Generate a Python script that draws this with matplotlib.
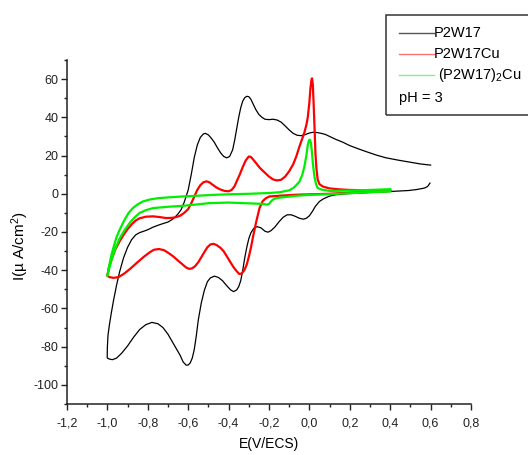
import matplotlib
matplotlib.use("Agg")
import matplotlib.pyplot as plt
from matplotlib.lines import Line2D
from matplotlib.patches import Rectangle

plt.rcParams["font.family"] = ["Liberation Sans", "DejaVu Sans"]
plt.rcParams["mathtext.default"] = "regular"
plt.rcParams["axes.unicode_minus"] = False

# ── Data (E in V/ECS, I in µA/cm²) ─────────────────────────────────────
# P2W17 : cathodic sweep 0.6 -> -1.0, then anodic sweep back to 0.6
p2w17_E = [0.597, 0.585, 0.57, 0.53, 0.49, 0.40, 0.30, 0.18, 0.13, 0.10, 0.07, 0.05,
           0.03, 0.015, 0.0, -0.015, -0.03, -0.05, -0.07, -0.09, -0.11, -0.13, -0.15,
           -0.17, -0.19, -0.205, -0.22, -0.24, -0.26, -0.275, -0.29, -0.30, -0.31,
           -0.32, -0.33, -0.34, -0.35, -0.36, -0.375, -0.39, -0.41, -0.43, -0.45,
           -0.47, -0.49, -0.505, -0.52, -0.535, -0.55, -0.56, -0.57, -0.58, -0.59,
           -0.60, -0.61, -0.625, -0.64, -0.66, -0.68, -0.70, -0.725, -0.75, -0.78,
           -0.81, -0.84, -0.87, -0.90, -0.93, -0.955, -0.975, -0.99, -1.0,
           -1.001, -1.0, -0.997, -0.99, -0.98, -0.97, -0.955, -0.94, -0.92, -0.90,
           -0.88, -0.86, -0.84, -0.82, -0.80, -0.775, -0.75, -0.725, -0.70, -0.68,
           -0.665, -0.65, -0.635, -0.62, -0.60, -0.585, -0.57, -0.555, -0.54,
           -0.525, -0.515, -0.50, -0.485, -0.47, -0.455, -0.44, -0.425, -0.41,
           -0.395, -0.38, -0.37, -0.36, -0.35, -0.34, -0.33, -0.32, -0.31, -0.30,
           -0.29, -0.28, -0.265, -0.25, -0.235, -0.22, -0.20, -0.18, -0.16, -0.14,
           -0.12, -0.10, -0.08, -0.06, -0.04, -0.02, 0.0, 0.02, 0.04, 0.06, 0.08,
           0.10, 0.13, 0.165, 0.20, 0.24, 0.28, 0.33, 0.38, 0.445, 0.50, 0.55, 0.60]
p2w17_I = [5.6, 3.8, 3.0, 2.2, 1.7, 1.2, 0.7, 0.0, -0.5, -1.2, -2.6, -4.0,
           -6.5, -9.2, -11.5, -12.8, -13.3, -12.8, -11.8, -11.0, -11.0, -12.3, -14.6,
           -17.3, -19.3, -20.1, -19.6, -17.8, -17.2, -18.0, -20.5, -23.5, -28.0,
           -33.5, -40.0, -45.5, -48.6, -50.3, -51.2, -50.3, -48.0, -45.5, -43.8,
           -43.1, -44.0, -46.0, -50.5, -57.0, -66.0, -74.4, -81.5, -86.0, -88.5,
           -89.6, -89.7, -88.0, -84.5, -80.8, -77.0, -73.5, -70.0, -68.0, -67.3,
           -68.5, -71.0, -75.0, -79.6, -83.5, -86.0, -86.8, -86.5, -86.0,
           -85.5, -80.0, -74.0, -68.5, -62.0, -56.0, -48.0, -41.0, -33.5, -28.0,
           -24.0, -21.5, -20.3, -19.6, -18.8, -17.5, -16.5, -15.6, -14.8, -13.5,
           -12.2, -10.5, -8.3, -4.5, 2.0, 10.0, 19.0, 25.5, 29.5,
           31.3, 31.6, 30.8, 29.0, 26.8, 24.0, 21.5, 19.6, 18.8,
           19.5, 23.0, 28.0, 34.0, 40.0, 45.0, 48.5, 50.3, 51.0, 50.8,
           49.5, 47.3, 44.0, 41.5, 40.0, 39.0, 38.8, 39.0, 38.6, 37.5,
           35.5, 33.4, 31.6, 30.6, 30.4, 31.0, 31.8, 32.2, 32.0, 31.6, 31.0,
           30.0, 28.5, 27.0, 25.2, 23.6, 22.1, 20.3, 18.8, 17.5, 16.5, 15.6, 15.0]

# P2W17Cu : 0.4 -> -1.0 -> 0.4
p2w17cu_E = [0.40, 0.30, 0.20, 0.10, 0.0, -0.066, -0.13, -0.17, -0.198, -0.215, -0.231,
             -0.247, -0.264, -0.28, -0.29, -0.30, -0.31, -0.322, -0.335, -0.347, -0.36,
             -0.375, -0.39, -0.41, -0.425, -0.44, -0.46, -0.475, -0.49, -0.505, -0.52,
             -0.535, -0.55, -0.565, -0.58, -0.595, -0.61, -0.63, -0.65, -0.675, -0.70,
             -0.72, -0.745, -0.77, -0.79, -0.82, -0.855, -0.89, -0.92, -0.945, -0.97,
             -0.99, -1.0,
             -0.995, -0.985, -0.973, -0.96, -0.94, -0.92, -0.90, -0.88, -0.86, -0.84,
             -0.81, -0.775, -0.74, -0.71, -0.68, -0.66, -0.64, -0.62, -0.60, -0.585,
             -0.57, -0.555, -0.54, -0.525, -0.51, -0.495, -0.48, -0.46, -0.44, -0.42,
             -0.40, -0.385, -0.37, -0.36, -0.345, -0.33, -0.315, -0.30, -0.29, -0.275,
             -0.26, -0.245, -0.225, -0.20, -0.18, -0.16, -0.14, -0.12, -0.10, -0.08,
             -0.065, -0.05, -0.035, -0.025, -0.015, -0.008, 0.0, 0.005, 0.01, 0.013,
             0.017, 0.021, 0.026, 0.03, 0.035, 0.041, 0.05, 0.066, 0.10, 0.15, 0.20,
             0.30, 0.40]
p2w17cu_I = [1.5, 1.0, 0.6, 0.0, -0.3, -0.5, -0.9, -1.2, -1.4, -2.3, -3.8,
             -7.5, -15.0, -23.0, -28.5, -33.0, -37.0, -40.0, -41.7, -42.0, -40.5,
             -38.5, -36.0, -32.5, -30.0, -28.3, -26.8, -26.2, -26.5, -28.0, -30.5,
             -33.2, -35.8, -37.8, -39.0, -39.3, -38.6, -36.8, -35.0, -32.7, -30.8,
             -29.5, -28.9, -29.3, -30.6, -33.0, -36.2, -39.5, -42.0, -43.6, -44.0,
             -43.6, -43.0,
             -39.5, -36.0, -32.5, -29.0, -25.0, -21.5, -18.5, -16.0, -14.0, -12.8,
             -12.0, -11.8, -12.2, -12.7, -12.6, -12.2, -11.5, -10.0, -8.0, -5.0,
             -1.5, 2.0, 4.5, 6.0, 6.5, 6.0, 4.8, 3.3, 2.2, 1.5,
             1.3, 2.0, 4.0, 6.5, 10.0, 14.0, 17.5, 19.5, 19.3, 17.5,
             15.5, 13.5, 11.5, 9.0, 7.5, 7.0, 7.3, 9.0, 11.8, 15.5,
             19.5, 24.5, 29.0, 32.0, 36.0, 40.0, 48.0, 55.0, 59.5, 60.4,
             57.0, 47.0, 33.0, 21.0, 13.0, 7.5, 5.0, 3.8, 2.8, 2.3, 2.0,
             1.8, 1.8]

# (P2W17)2Cu : 0.4 -> -1.0 -> 0.4
p2w17_2cu_E = [0.40, 0.30, 0.20, 0.10, 0.016, -0.06, -0.12, -0.165, -0.18, -0.19, -0.20,
               -0.21, -0.23, -0.30, -0.40, -0.495, -0.56, -0.627, -0.70, -0.775, -0.81,
               -0.84, -0.865, -0.89, -0.915, -0.94, -0.96, -0.975, -0.99, -1.0,
               -0.99, -0.98, -0.967, -0.956, -0.94, -0.915, -0.895, -0.874, -0.85,
               -0.824, -0.79, -0.75, -0.70, -0.627, -0.55, -0.462, -0.38, -0.297,
               -0.20, -0.148, -0.10, -0.08, -0.065, -0.049, -0.035, -0.025, -0.015,
               -0.008, -0.002, 0.003, 0.008, 0.013, 0.018, 0.025, 0.033, 0.041, 0.06,
               0.10, 0.20, 0.30, 0.40]
p2w17_2cu_I = [1.2, 0.8, 0.3, -0.2, -0.5, -1.0, -1.7, -2.3, -3.0, -4.0, -5.3,
               -5.7, -5.3, -5.0, -4.6, -4.9, -5.6, -6.3, -6.8, -7.5, -8.6,
               -10.0, -12.3, -15.3, -19.0, -23.5, -28.5, -33.0, -38.5, -43.0,
               -37.0, -32.0, -27.0, -23.1, -19.0, -13.6, -10.0, -7.5, -5.5,
               -4.0, -3.0, -2.3, -1.9, -1.4, -1.0, -0.5, -0.2, 0.0,
               0.4, 0.8, 1.8, 3.0, 4.5, 6.4, 10.0, 14.2, 20.0,
               25.6, 28.0, 28.3, 26.5, 21.2, 15.0, 9.0, 5.0, 3.0, 2.2,
               1.5, 1.7, 2.0, 2.4]

xticks = [-1.2, -1.0, -0.8, -0.6, -0.4, -0.2, 0.0, 0.2, 0.4, 0.6, 0.8]
xtick_labels = ["-1,2", "-1,0", "-0,8", "-0,6", "-0,4", "-0,2", "0,0", "0,2", "0,4", "0,6", "0,8"]
yticks = [-100, -80, -60, -40, -20, 0, 20, 40, 60]
ytick_labels = ["-100", "-80", "-60", "-40", "-20", "0", "20", "40", "60"]

series_names = ["P2W17", "P2W17Cu", " (P2W17)$_2$Cu"]
series_colors = ["black", "#ff0000", "#00ee00"]
legend_line_colors = ["#555555", "#ff7070", "#80f080"]

# ── Figure ─────────────────────────────────────────────────
fig = plt.figure(figsize=(5.28, 4.55), dpi=100)
ax = fig.add_axes([67 / 528, 1 - 404 / 455, 404 / 528, 344 / 455])

ax.plot(p2w17_E, p2w17_I, color=series_colors[0], lw=0.9)
ax.plot(p2w17cu_E, p2w17cu_I, color=series_colors[1], lw=1.6)
ax.plot(p2w17_2cu_E, p2w17_2cu_I, color=series_colors[2], lw=1.6)

ax.set_xlim(-1.2, 0.8)
ax.set_ylim(-110, 70)
ax.spines["top"].set_visible(False)
ax.spines["right"].set_visible(False)
for s in ("left", "bottom"):
    ax.spines[s].set_linewidth(1.1)
    ax.spines[s].set_color("#222222")

ax.set_xticks(xticks, labels=xtick_labels)
ax.set_yticks(yticks, labels=ytick_labels)
ax.set_xticks([-1.1, -0.9, -0.7, -0.5, -0.3, -0.1, 0.1, 0.3, 0.5, 0.7], minor=True)
ax.set_yticks([-110, -90, -70, -50, -30, -10, 10, 30, 50, 70], minor=True)
ax.tick_params(which="major", direction="out", length=4, width=1, labelsize=9, colors="#222222")
ax.tick_params(which="minor", direction="out", length=2.5, width=1, colors="#222222")
ax.tick_params(axis="x", which="major", pad=6)
ax.tick_params(axis="y", which="major", pad=2)

fig.text(269 / 528, 1 - 444 / 455, "E(V/ECS)", ha="center", va="center", fontsize=10)
fig.text(20 / 528, 1 - 246 / 455, "I(µ A/cm$^2$)", ha="center", va="center",
         rotation=90, fontsize=11)

# ── Legend box (runs off the right edge, as in the original) ───
fig.add_artist(Rectangle((386 / 528, 1 - 115 / 455), 200 / 528, 100 / 455,
                         transform=fig.transFigure, fill=False, lw=1.1,
                         edgecolor="#333333"))
row_y = [33, 54, 75]
for name, col, y in zip(series_names, legend_line_colors, row_y):
    fig.add_artist(Line2D([399 / 528, 434 / 528], [1 - y / 455, 1 - y / 455],
                          transform=fig.transFigure, color=col, lw=1.0))
    fig.text(434 / 528, 1 - y / 455, name, ha="left", va="center", fontsize=10.5)
fig.text(399 / 528, 1 - 98 / 455, "pH = 3", ha="left", va="center", fontsize=10.5)

fig.savefig("out.png", dpi=100)
